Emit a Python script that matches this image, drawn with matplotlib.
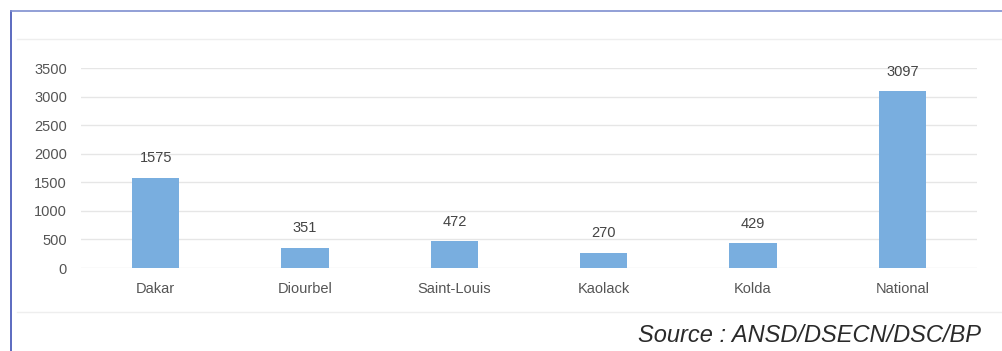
import matplotlib
matplotlib.use("Agg")
import matplotlib.pyplot as plt
from matplotlib.lines import Line2D

categories = ["Dakar", "Diourbel", "Saint-Louis", "Kaolack", "Kolda", "National"]
values = [1575, 351, 472, 270, 429, 3097]
yticks = [0, 500, 1000, 1500, 2000, 2500, 3000, 3500]

W, H = 1003, 351
fig = plt.figure(figsize=(W / 100, H / 100), dpi=100)
plt.rcParams['font.family'] = ['Liberation Sans', 'DejaVu Sans']

def fx(px):
    return px / W

def fy(py):
    return 1 - py / H

ax = fig.add_axes([fx(81), fy(268), fx(977) - fx(81), fy(68) - fy(268)])
x = range(len(categories))
ax.bar(x, values, width=0.315, color="#79aedf", zorder=3)
for xi, v in zip(x, values):
    ax.annotate(str(v), (xi, v), xytext=(0, 9), textcoords="offset points",
                ha="center", va="bottom", fontsize=10.5, color="#444444")
ax.set_xlim(-0.5, len(categories) - 0.5)
ax.set_ylim(0, 3500)
ax.set_yticks(yticks)
ax.set_yticklabels([str(t) for t in yticks], fontsize=10.5, color="#555555")
ax.set_xticks(list(x))
ax.set_xticklabels(categories, fontsize=10.5, color="#555555")
ax.tick_params(length=0, axis="y", pad=10)
ax.tick_params(length=0, axis="x", pad=10)
ax.grid(axis="y", color="#e6e6e6", linewidth=1, zorder=0)
for s in ax.spines.values():
    s.set_visible(False)

# frame lines
fig.add_artist(Line2D([fx(10.5), fx(10.5)], [fy(10.5), 0], color="#3f51b5", linewidth=1.2))
fig.add_artist(Line2D([fx(10.5), 1], [fy(10.5), fy(10.5)], color="#7f8fd0", linewidth=1.2))
fig.add_artist(Line2D([fx(17), 1], [fy(39), fy(39)], color="#eeeeee", linewidth=1))
fig.add_artist(Line2D([fx(17), 1], [fy(312), fy(312)], color="#eeeeee", linewidth=1))

fig.text(fx(981), fy(335), "Source : ANSD/DSECN/DSC/BP", ha="right", va="center",
         fontsize=17, style="italic", color="#2a2a2a")

fig.savefig("out.png", dpi=100)
